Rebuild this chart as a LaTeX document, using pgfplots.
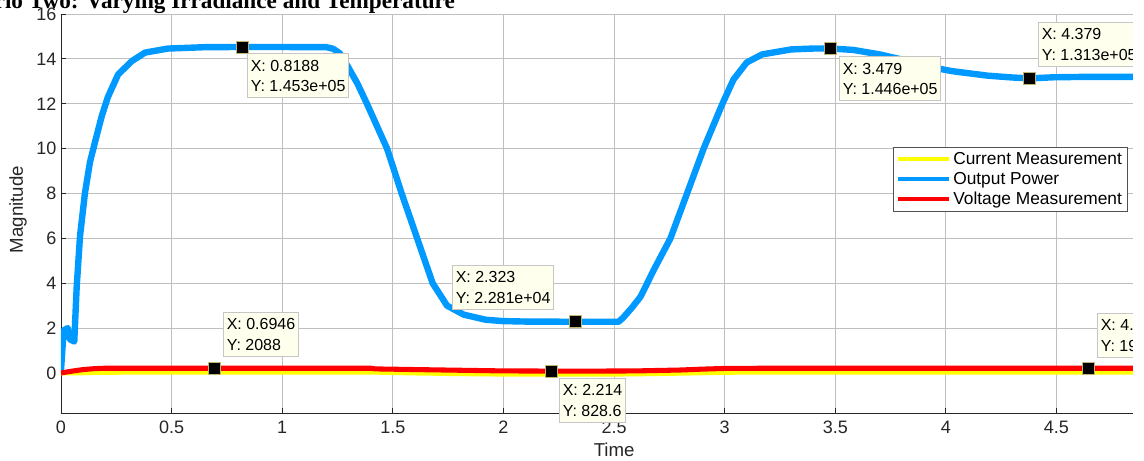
\documentclass[border=0pt]{standalone}
\usepackage{pgfplots}
\pgfplotsset{compat=1.18}
\usepackage{fontspec}
\setmainfont{Liberation Sans}
\newfontfamily\titlefont{Liberation Serif}
\definecolor{mblue}{RGB}{0,153,255}
\definecolor{myellow}{RGB}{255,255,0}
\definecolor{mred}{RGB}{255,0,0}
\definecolor{tipfill}{RGB}{255,255,238}
\definecolor{axgray}{RGB}{38,38,38}
\tikzset{tip/.style={draw=gray!45, fill=tipfill, line width=0.6pt, align=left,
  font=\fontsize{12}{15.5}\selectfont, inner xsep=2.5pt, inner ysep=4.5pt, anchor=north west, text=black}}
\begin{document}
\begin{tikzpicture}
\begin{axis}[
  scale only axis, width=804pt, height=299.25pt,
  xmin=0, xmax=4.846, ymin=-1.786, ymax=16,
  axis x line*=bottom, axis y line*=left,
  axis line style={axgray, line width=0.6pt},
  xtick={0,0.5,1,1.5,2,2.5,3,3.5,4,4.5},
  xticklabels={0,0.5,1,1.5,2,2.5,3,3.5,4,4.5},
  ytick={0,2,4,6,8,10,12,14,16},
  yticklabels={0,2,4,6,8,10,12,14,16},
  grid=major, major grid style={gray!50, line width=0.7pt},
  tick align=inside, major tick length=4pt, tick style={axgray, line width=0.6pt},
  ticklabel style={font=\fontsize{13.5}{15}\selectfont, text=axgray},
  xticklabel style={yshift=-2.5pt},
  xlabel={Time}, ylabel={Magnitude},
  label style={font=\fontsize{14}{16}\selectfont, text=axgray},
  xlabel style={at={(axis description cs:0.516,-0.0927)}, anchor=center},
  ylabel style={at={(axis description cs:-0.0401,0.51)}, anchor=center},
  legend style={at={(0.776,0.667)}, anchor=north west, draw=axgray!80, line width=0.6pt,
    fill=white, font=\fontsize{13}{15}\selectfont, inner xsep=2pt, inner ysep=1.5pt, row sep=0.5pt},
  legend cell align=left,
  legend image code/.code={\draw[#1, line width=3pt] (0pt,0pt) -- (38pt,0pt);},
]
\addplot[myellow, line width=3.8pt, line join=round] coordinates {
(0,0) (0.05,0.0) (0.1,0.01) (0.2,0.03) (0.5,0.04) (1.0,0.04) (1.4,0.04) (1.6,0.0) (1.8,-0.03) (2.0,-0.05)
(2.2,-0.05) (2.5,-0.05) (2.6,-0.04) (2.8,-0.01) (3.0,0.03) (3.2,0.04) (4.0,0.04) (4.85,0.04)};
\addlegendentry{Current Measurement}
\addplot[mblue, line width=4.8pt, line join=round] coordinates {
(0,0.13) (0.012,1.9) (0.022,1.95) (0.03,2.0) (0.04,1.5) (0.06,1.4) (0.071,3.85) (0.086,6.1) (0.108,8.0)
(0.131,9.4) (0.154,10.3) (0.184,11.44) (0.212,12.3) (0.258,13.3) (0.32,13.9) (0.38,14.28) (0.484,14.46)
(0.65,14.52) (0.8188,14.53) (1.0,14.53) (1.1,14.52) (1.2,14.52) (1.23,14.45) (1.26,14.25) (1.3,13.6)
(1.34,12.9) (1.383,12.0) (1.474,10.0) (1.54,8.0) (1.61,6.0) (1.68,4.0) (1.745,3.0) (1.82,2.6) (1.92,2.37)
(2.0,2.31) (2.1,2.29) (2.323,2.281) (2.52,2.28) (2.54,2.45) (2.58,2.9) (2.62,3.4) (2.68,4.6) (2.755,6.0)
(2.83,8.0) (2.905,10.0) (2.99,12.0) (3.04,13.08) (3.1,13.84) (3.17,14.2) (3.3,14.42) (3.4,14.46)
(3.479,14.46) (3.58,14.4) (3.7,14.2) (3.81,13.95) (3.92,13.65) (4.03,13.45) (4.19,13.25) (4.3,13.17)
(4.379,13.13) (4.49,13.18) (4.65,13.2) (4.85,13.2)};
\addlegendentry{Output Power}
\addplot[mred, line width=3.8pt, line join=round] coordinates {
(0,0.0) (0.05,0.08) (0.1,0.15) (0.15,0.19) (0.2,0.21) (0.5,0.21) (1.0,0.21) (1.4,0.21) (1.42,0.18)
(1.6,0.15) (1.8,0.12) (2.0,0.09) (2.214,0.0829) (2.5,0.085) (2.6,0.09) (2.8,0.13) (2.9,0.17) (3.0,0.2)
(3.2,0.21) (4.85,0.21)};
\addlegendentry{Voltage Measurement\hspace{12pt}}
\addplot[only marks, mark=square*, mark size=4.5pt, mark options={fill=black, draw=yellow!40!gray, line width=0.4pt}, forget plot]
coordinates {(0.8188,14.53) (0.6946,0.2088) (2.323,2.281) (2.214,0.0829) (3.479,14.46) (4.379,13.13) (4.643,0.2)};
\coordinate (b1) at (axis cs:0.8409,14.241);
\coordinate (b2) at (axis cs:0.7324,2.723);
\coordinate (b3) at (axis cs:1.7676,4.821);
\coordinate (b4) at (axis cs:2.2514,-0.2232);
\coordinate (b5) at (axis cs:3.5172,14.107);
\coordinate (b6) at (axis cs:4.4168,15.625);
\coordinate (b7) at (axis cs:4.6835,2.679);
\end{axis}
\node[tip] at (b1) {X: 0.8188\\Y: 1.453e+05};
\node[tip] at (b2) {X: 0.6946\\Y: 2088};
\node[tip] at (b3) {X: 2.323\\Y: 2.281e+04};
\node[tip] at (b4) {X: 2.214\\Y: 828.6};
\node[tip] at (b5) {X: 3.479\\Y: 1.446e+05};
\node[tip] at (b6) {X: 4.379\\Y: 1.313e+05};
\node[tip] at (b7) {X: 4.643\\Y: 1998};
\node[anchor=base west, font=\titlefont\bfseries\fontsize{17.4}{20}\selectfont] at (-96.75pt,303pt)
  {Scenario Two: Varying Irradiance and Temperature};
\fill[white] (804pt,-40pt) rectangle (820pt,320pt);
\pgfresetboundingbox
\useasboundingbox (-45.75pt,-35.25pt) rectangle (812.25pt,309.75pt);
\end{tikzpicture}
\end{document}
